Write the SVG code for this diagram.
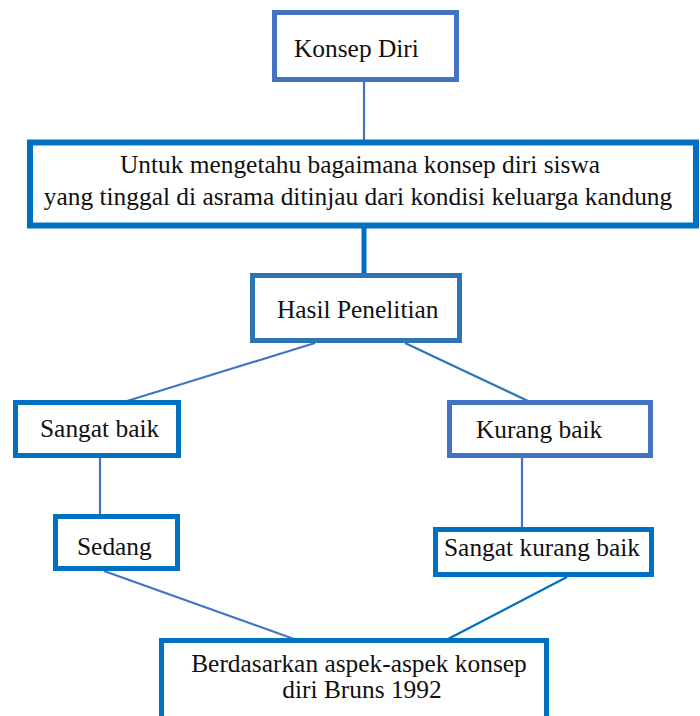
<svg xmlns="http://www.w3.org/2000/svg" width="700" height="716" viewBox="0 0 700 716">
<style>
.bx{fill:#fff;stroke:#0070C0;stroke-width:5}
.bx2{stroke:#4472C4}
.bx3{stroke:#2E75B6}
.t{font-family:"Liberation Serif","Times New Roman",serif;font-size:25.4px;fill:#111}
.c{stroke:#4472C4;stroke-width:2.2;fill:none}
</style>
<rect width="700" height="716" fill="#fff"/>
<g id="connectors">
<line class="c" x1="364" y1="82" x2="364" y2="140"/>
<line class="c" x1="364" y1="228" x2="364" y2="276" style="stroke:#0070C0;stroke-width:5"/>
<line class="c" x1="315" y1="343" x2="127" y2="401"/>
<line class="c" x1="405" y1="343" x2="528" y2="401" style="stroke:#2E75B6"/>
<line class="c" x1="100" y1="458" x2="100" y2="514"/>
<line class="c" x1="522" y1="458" x2="522" y2="528"/>
<line class="c" x1="104" y1="571" x2="294" y2="639"/>
<line class="c" x1="567" y1="577" x2="448" y2="639" style="stroke:#0070C0"/>
</g>
<g id="konsep-diri">
<rect class="bx bx2" x="274.5" y="12.5" width="182" height="67"/>
<text class="t" x="294" y="57">Konsep Diri</text>
</g>
<g id="tujuan">
<rect class="bx" x="30" y="142.5" width="666" height="83" style="stroke-width:6"/>
<text class="t" x="360" y="173" text-anchor="middle">Untuk mengetahu bagaimana konsep diri siswa</text>
<text class="t" x="358" y="205" text-anchor="middle">yang tinggal di asrama ditinjau dari kondisi keluarga kandung</text>
</g>
<g id="hasil">
<rect class="bx bx3" x="252.5" y="275.5" width="207" height="65"/>
<text class="t" x="277" y="318">Hasil Penelitian</text>
</g>
<g id="sangat-baik">
<rect class="bx" x="15.5" y="402.5" width="163" height="53"/>
<text class="t" x="40" y="437">Sangat baik</text>
</g>
<g id="kurang-baik">
<rect class="bx bx2" x="449.5" y="402.5" width="201" height="53"/>
<text class="t" x="476" y="438">Kurang baik</text>
</g>
<g id="sedang">
<rect class="bx" x="55.5" y="516.5" width="122" height="52"/>
<text class="t" x="77" y="555">Sedang</text>
</g>
<g id="sangat-kurang-baik">
<rect class="bx" x="435.5" y="529.5" width="216" height="45"/>
<text class="t" x="444" y="556">Sangat kurang baik</text>
</g>
<g id="berdasarkan">
<rect class="bx" x="161.5" y="640.5" width="385" height="90"/>
<text class="t" x="359" y="672" text-anchor="middle">Berdasarkan aspek-aspek konsep</text>
<text class="t" x="362" y="698" text-anchor="middle">diri Bruns 1992</text>
</g>
</svg>
